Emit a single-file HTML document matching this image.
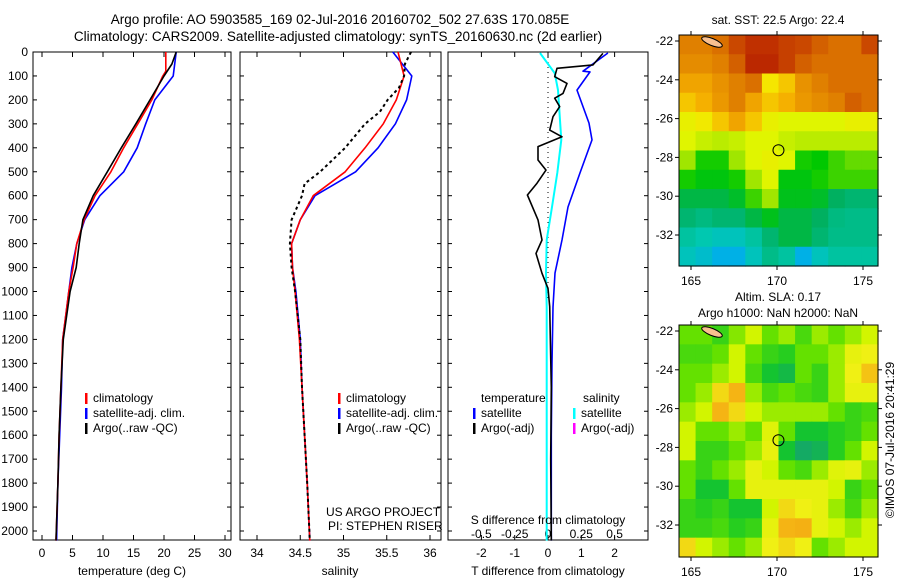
<!DOCTYPE html>
<html><head><meta charset="utf-8"><style>
body{margin:0;background:#fff;}
svg{display:block;font-family:"Liberation Sans",sans-serif;}
</style></head><body>
<svg id="s" width="900" height="580" viewBox="0 0 900 580">
<rect width="900" height="580" fill="#fff"/>
<text x="340" y="24" font-size="13.5" text-anchor="middle">Argo profile: AO 5903585_169 02-Jul-2016 20160702_502 27.63S 170.085E</text>
<text x="338" y="41" font-size="13.5" text-anchor="middle">Climatology: CARS2009. Satellite-adjusted climatology: synTS_20160630.nc (2d earlier)</text>
</svg>
<script>
// ---- data ----
const depthTicks=[0,100,200,300,400,500,600,700,800,900,1000,1100,1200,1300,1400,1500,1600,1700,1800,1900,2000];
const tTicks=[0,5,10,15,20,25,30];
const sTicks=[34,34.5,35,35.5,36];
const sTickLabels=["34","34.5","35","35.5","36"];
const dTTicks=[-2,-1,0,1,2];
const dSTicks=[-0.5,-0.25,0,0.25,0.5];
const dSTickLabels=["-0.5","-0.25","0","0.25","0.5"];
const tClimDepth=[0,80,100,200,300,400,500,600,700,800,900,1000,1200,1400,1600,1800,2040];
const tClim=[20.3,20.3,19.8,18,15.7,13.4,11.3,8.7,6.9,5.7,5.1,4.4,3.4,3.1,2.8,2.6,2.3];
const tSatDepth=[0,100,200,300,400,500,600,700,800,900,1000,1100,1200,1400,1600,1800,2040];
const tSat=[22,21.5,18.5,17,15.6,13.4,9.5,7,5.7,4.9,4.4,3.9,3.4,3.2,2.9,2.6,2.4];
const tArgoDepth=[0,50,100,200,300,400,500,600,700,800,900,1000,1200,1400,1600,1800,2040];
const tArgo=[22,21.3,20,17.7,15.4,13,10.7,8.4,6.7,6.1,5.6,4.6,3.5,3.1,2.8,2.6,2.3];
const sDepth=[0,100,200,300,400,500,600,700,800,900,1000,1200,1400,1600,1800,2040];
const sClim=[35.63,35.7,35.61,35.46,35.25,35.02,34.65,34.5,34.4,34.41,34.44,34.49,34.52,34.55,34.58,34.61];
const sSat=[35.57,35.79,35.73,35.6,35.4,35.14,34.67,34.5,34.4,34.41,34.45,34.5,34.52,34.55,34.58,34.61];
const sArgoDepth=[0,50,100,150,200,250,300,400,500,550,600,700,800,900,1000,1200,1400,1600,1800,2040];
const sArgo=[35.78,35.71,35.7,35.64,35.51,35.42,35.25,35.02,34.73,34.55,34.52,34.4,34.38,34.4,34.44,34.5,34.52,34.55,34.58,34.61];
const dTSatDepth=[4,80,83,159,297,367,505,647,785,923,1065,1300,1600,2040];
const dTSat=[1.8,1.05,1.26,0.87,1.23,1.32,0.96,0.6,0.42,0.21,0.15,0.12,0.1,0.1];
const dSSatDepth=[4,88,159,367,505,647,785,923,1065,1500,2040];
const dSSat=[-0.06,0.05,0.075,0.1,0.07,0.03,-0.01,-0.015,-0.01,-0.01,-0.01];
const dTArgoDepth=[6,54,68,103,131,173,193,228,270,326,354,395,451,493,548,597,701,785,841,924,987,1063,1400,1700,2040];
const dTArgo=[1.65,1.35,0.27,0.2,0.57,0.45,0.2,0.35,0.15,0.05,0.42,-0.3,-0.3,-0.06,-0.33,-0.62,-0.3,-0.18,-0.36,-0.18,0,0.05,0.1,0.08,0.1];
const lonTicks=[165,170,175];
const latTicks=[-22,-24,-26,-28,-30,-32];
const sstGrid=[
[.78,.78,.8,.85,.88,.88,.86,.85,.82,.8,.8,.85],
[.76,.76,.78,.82,.9,.9,.86,.82,.8,.8,.8,.8],
[.72,.72,.75,.78,.8,.65,.68,.75,.78,.8,.8,.8],
[.68,.7,.74,.78,.72,.68,.7,.74,.76,.78,.82,.8],
[.62,.64,.68,.72,.68,.62,.6,.6,.6,.6,.62,.62],
[.6,.58,.57,.58,.6,.6,.58,.57,.57,.57,.57,.57],
[.55,.48,.48,.55,.6,.62,.6,.48,.47,.5,.52,.52],
[.48,.46,.46,.48,.55,.6,.46,.46,.48,.5,.5,.5],
[.42,.42,.42,.44,.5,.55,.45,.45,.44,.4,.38,.38],
[.38,.36,.38,.38,.42,.45,.42,.42,.4,.36,.35,.35],
[.32,.3,.28,.28,.32,.38,.42,.42,.38,.35,.35,.35],
[.28,.25,.2,.2,.28,.35,.32,.2,.28,.32,.32,.32]];
const slaGrid=[
[.45,.45,.4,.48,.55,.45,.5,.42,.5,.45,.5,.55],
[.42,.42,.45,.55,.45,.4,.38,.45,.45,.5,.6,.62],
[.45,.45,.5,.55,.42,.35,.32,.45,.4,.5,.62,.68],
[.45,.5,.65,.7,.5,.42,.45,.42,.4,.5,.6,.6],
[.5,.55,.7,.65,.55,.5,.5,.5,.5,.45,.4,.42],
[.55,.45,.45,.5,.45,.58,.45,.35,.35,.38,.4,.45],
[.55,.4,.4,.45,.5,.6,.35,.28,.3,.38,.45,.55],
[.45,.4,.45,.5,.6,.55,.45,.42,.5,.58,.6,.5],
[.45,.35,.35,.45,.6,.6,.6,.6,.6,.55,.4,.45],
[.4,.38,.4,.35,.35,.55,.65,.62,.6,.5,.42,.5],
[.4,.4,.42,.38,.4,.6,.7,.72,.6,.55,.5,.55],
[.65,.55,.5,.45,.5,.62,.65,.62,.45,.5,.55,.55]];
const argoLon=170.085, argoLat=-27.63;

// ---- helpers ----
const S=document.getElementById('s'),NS='http://www.w3.org/2000/svg';
function mk(tag,at,txt){const e=document.createElementNS(NS,tag);for(const k in at)e.setAttribute(k,at[k]);if(txt!==undefined)e.textContent=txt;S.appendChild(e);return e;}
const yD=d=>52+0.2395*d;
const xT=t=>42+6.1*t;
const xS=s=>257+86.5*(s-34);
const xDT=v=>548+33.3*v;
const xDS=v=>548+133.2*v;
function line(xs,ds,fx,col,w,name,dash){
  const p=xs.map((v,i)=>fx(v).toFixed(1)+','+yD(ds[i]).toFixed(1)).join(' ');
  const e=mk('polyline',{points:p,fill:'none',stroke:col,'stroke-width':w,'stroke-linejoin':'round'});
  if(dash)e.setAttribute('stroke-dasharray',dash);
  
  
}
function frame(x0,x1,name){
  const r=mk('rect',{x:x0,y:52,width:x1-x0,height:488,fill:'none',stroke:'#000','stroke-width':1});
  
  
}
function xticks(vals,labels,fx,x0,x1,ly,name){
  vals.forEach((v,i)=>{const x=fx(v);
    mk('line',{x1:x,y1:52,x2:x,y2:57,stroke:'#000'});
    mk('line',{x1:x,y1:540,x2:x,y2:535,stroke:'#000'});
    if(ly){const t=mk('text',{x:x,y:ly,'font-size':12,'text-anchor':'middle'},labels[i]);
    
    }
  });
}
function yticks(x0,x1,labels){
  depthTicks.forEach(d=>{const y=yD(d);
    mk('line',{x1:x0,y1:y,x2:x0+4,y2:y,stroke:'#000'});
    mk('line',{x1:x1,y1:y,x2:x1-4,y2:y,stroke:'#000'});
    if(labels){const t=mk('text',{x:28,y:y+4,'font-size':12,'text-anchor':'end'},String(d));
    
    }
  });
}
function legend(x,y,col,txt,name){
  mk('rect',{x:x,y:y-9,width:2.5,height:11,fill:col});
  const t=mk('text',{x:x+8,y:y,'font-size':12},txt);
  
  
}
function txt(x,y,s,name,anchor){const t=mk('text',{x:x,y:y,'font-size':12,'text-anchor':anchor||'middle'},s);
  
  return t;}

// ---- panel 1 temperature ----
frame(33,231,'temperature-panel');
yticks(33,231,true);
xticks(tTicks,tTicks.map(String),xT,33,231,557,'temperature-tick-label');
line(tSat,tSatDepth,xT,'#0000ff',1.6,'temperature-satellite-line');
line(tClim,tClimDepth,xT,'#ff0000',1.6,'temperature-climatology-line');
line(tArgo,tArgoDepth,xT,'#000',1.6,'temperature-argo-line');
txt(132,575,'temperature (deg C)','temperature-axis-title');
legend(85,402,'#ff0000','climatology','legend-climatology');
legend(85,417,'#0000ff','satellite-adj. clim.','legend-satellite');
legend(85,432,'#000','Argo(..raw -QC)','legend-argo');

// ---- panel 2 salinity ----
frame(240,441,'salinity-panel');
yticks(240,441,false);
xticks(sTicks,sTickLabels,xS,240,441,557,'salinity-tick-label');
line(sSat,sDepth,xS,'#0000ff',1.6,'salinity-satellite-line');
line(sClim,sDepth,xS,'#ff0000',1.6,'salinity-climatology-line');
line(sArgo,sArgoDepth,xS,'#000',2,'salinity-argo-line','3 3');
txt(340,575,'salinity','salinity-axis-title');
legend(338,402,'#ff0000','climatology','legend-climatology-2');
legend(338,417,'#0000ff','satellite-adj. clim.','legend-satellite-2');
legend(338,432,'#000','Argo(..raw -QC)','legend-argo-2');
txt(326,516,'US ARGO PROJECT','project-label','start');
txt(328,530,'PI: STEPHEN RISER','pi-label','start');

// ---- panel 3 differences ----
frame(448,648,'difference-panel');
yticks(448,648,false);
xticks(dTTicks,dTTicks.map(String),xDT,448,648,557,'t-diff-tick-label');
dSTicks.forEach((v,i)=>{const t=mk('text',{x:xDS(v),y:538,'font-size':12,'text-anchor':'middle'},dSTickLabels[i]);
  
  });
mk('line',{x1:548,y1:52,x2:548,y2:300,stroke:'#000','stroke-dasharray':'1 4'});
line(dTSat,dTSatDepth,xDT,'#0000ff',1.6,'t-diff-satellite-line');
line(dSSat,dSSatDepth,xDS,'#00ffff',2,'s-diff-satellite-line');
line(dTArgo,dTArgoDepth,xDT,'#000',1.6,'t-diff-argo-line');
txt(548,524,'S difference from climatology','s-diff-axis-title');
txt(548,575,'T difference from climatology','t-diff-axis-title');
txt(481,402,'temperature','legend-temperature-heading','start');
legend(473,417,'#0000ff','satellite','legend-t-satellite');
legend(473,432,'#000','Argo(-adj)','legend-t-argo');
txt(583,402,'salinity','legend-salinity-heading','start');
legend(573,417,'#00ffff','satellite','legend-s-satellite');
legend(573,432,'#ff00ff','Argo(-adj)','legend-s-argo');

// ---- maps ----
const sstStops=[[0,[0,96,255]],[0.2,[0,176,230]],[0.3,[0,200,176]],[0.4,[0,176,96]],[0.47,[0,200,0]],[0.55,[160,230,0]],[0.6,[224,245,0]],[0.65,[245,230,0]],[0.7,[245,176,0]],[0.78,[224,128,0]],[0.88,[192,48,0]],[1,[160,0,0]]];
const slaStops=[[0,[0,150,110]],[0.28,[20,170,100]],[0.36,[20,200,40]],[0.45,[100,225,0]],[0.55,[210,245,0]],[0.62,[240,240,20]],[0.7,[245,180,20]],[1,[230,120,0]]];
function cmap(stops,v){for(let i=1;i<stops.length;i++){if(v<=stops[i][0]){const a=stops[i-1],b=stops[i],f=(v-a[0])/(b[0]-a[0]);return 'rgb('+a[1].map((c,j)=>Math.round(c+f*(b[1][j]-c))).join(',')+')';}}const l=stops[stops.length-1][1];return 'rgb('+l.join(',')+')';}
function map(y0,y1,grid,stops,name){
  const x0=679,x1=878,lat22=y0+6;
  const xL=lon=>691+17.2*(lon-165);
  const yL=lat=>lat22+19.4*(-22-lat);
  const rows=grid.length,cols=grid[0].length,cw=(x1-x0)/cols,rh=(y1-y0)/rows;
  grid.forEach((r,i)=>r.forEach((v,j)=>{
    const c=mk('rect',{x:(x0+j*cw).toFixed(2),y:(y0+i*rh).toFixed(2),width:(cw+0.6).toFixed(2),height:(rh+0.6).toFixed(2),fill:cmap(stops,v)});
    
    
  }));
  const isl=mk('ellipse',{cx:x0+33,cy:y0+7,rx:11,ry:3.5,fill:'#f8c090',stroke:'#000','stroke-width':1,transform:'rotate(22 '+(x0+33)+' '+(y0+7)+')'});
  
  
  const f=mk('rect',{x:x0,y:y0,width:x1-x0,height:y1-y0,fill:'none',stroke:'#000'});
  
  
  lonTicks.forEach(l=>{const x=xL(l);mk('line',{x1:x,y1:y0,x2:x,y2:y0-4,stroke:'#000'});mk('line',{x1:x,y1:y1,x2:x,y2:y1+4,stroke:'#000'});
    const t=mk('text',{x:x,y:y1+19,'font-size':12,'text-anchor':'middle'},String(l));
    
    });
  latTicks.forEach(l=>{const y=yL(l);mk('line',{x1:x0,y1:y,x2:x0-4,y2:y,stroke:'#000'});mk('line',{x1:x1,y1:y,x2:x1+4,y2:y,stroke:'#000'});
    const t=mk('text',{x:x0-6,y:y+4,'font-size':12,'text-anchor':'end'},String(l));
    
    });
  const c=mk('circle',{cx:xL(argoLon),cy:yL(argoLat),r:5.5,fill:'none',stroke:'#000','stroke-width':1});
  
  
}
map(35,266,sstGrid,sstStops,'sst-map');
txt(778,24,'sat. SST: 22.5 Argo: 22.4','sst-map-title');
map(325,557,slaGrid,slaStops,'sla-map');
txt(778,301,'Altim. SLA: 0.17','sla-map-title');
txt(778,317,'Argo h1000: NaN h2000: NaN','sla-map-subtitle');
const cr=mk('text',{x:0,y:0,'font-size':12,'text-anchor':'middle',transform:'translate(894,440) rotate(-90)'},'©IMOS 07-Jul-2016 20:41:29');


</script>
</body></html>
